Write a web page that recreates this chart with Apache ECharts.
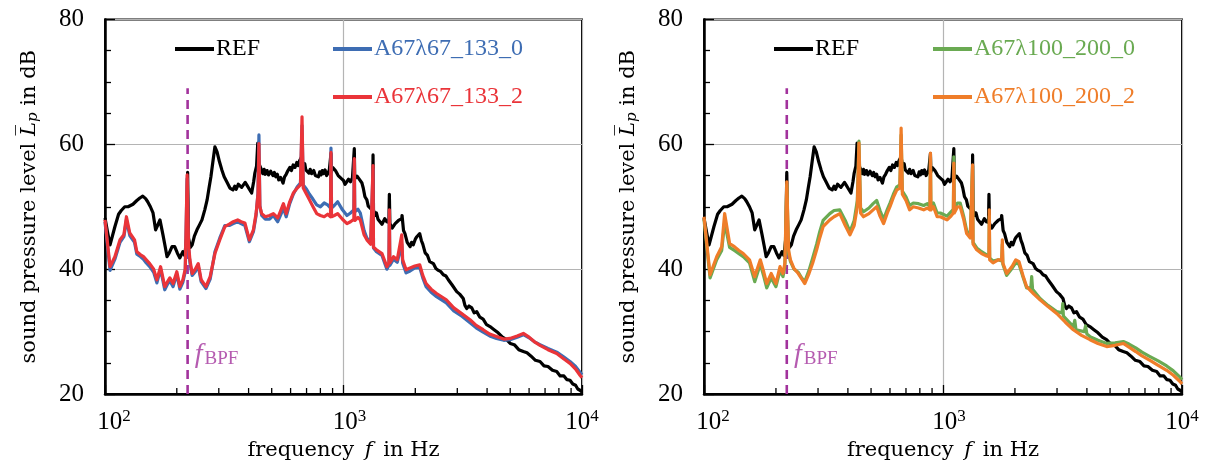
<!DOCTYPE html>
<html>
<head>
<meta charset="utf-8">
<script src="https://cdn.jsdelivr.net/npm/echarts@6/dist/echarts.min.js"></script>
<style>
html,body{margin:0;padding:0;background:#fff;}
#chart{width:1206px;height:468px;}
</style>
</head>
<body>
<div id="chart"></div>
<script>
// ---------------- data ----------------
const xMin = 100, xMax = 10000;
const yMin = 20, yMax = 80, yStep = 20;
const xTickExp = {100: '2', 1000: '3', 10000: '4'};
const minorTicks = [200,300,400,500,600,700,800,900,2000,3000,4000,5000,6000,7000,8000,9000];
const bpfFreq = 222;
const bpfLineTop = 69;
const bpfLabelAt = [238, 26.3];

const leftNames = ['REF', 'A67λ67_133_0', 'A67λ67_133_2'];
const rightNames = ['REF', 'A67λ100_200_0', 'A67λ100_200_2'];

const refData = [[100,48.2],[103,45.5],[105,43.9],[110,46.8],[114,48.8],[117,49.4],[121,50.0],[125,50.0],[131,50.4],[136,51.0],[140,51.4],[144,51.7],[148,51.3],[151,50.8],[155,50.0],[159,49.0],[163,46.3],[167,47.2],[170,47.9],[175,45.5],[179,43.5],[182,42.0],[186,42.6],[191,43.6],[196,43.6],[201,42.6],[206,41.8],[212,42.8],[216,42.2],[220,45.0],[222,55.5],[224,45.0],[228,43.5],[232,43.9],[237,45.3],[243,46.3],[249,47.1],[255,47.9],[262,49.5],[268,51.1],[273,53.0],[278,54.8],[284,57.5],[289,59.6],[292,59.8],[295,58.8],[302,57.2],[309,55.9],[316,54.8],[324,54.0],[334,53.0],[344,52.7],[350,53.3],[355,52.8],[362,53.6],[368,53.8],[374,53.1],[380,53.3],[387,53.9],[393,53.5],[403,52.8],[412,52.2],[420,54.0],[425,55.4],[432,56.5],[437,60.2],[441,57.0],[450,56.2],[459,55.3],[465,56.0],[470,55.2],[478,55.8],[485,55.1],[495,55.7],[506,55.0],[513,55.5],[520,54.8],[528,55.2],[535,54.3],[545,54.7],[558,53.8],[566,54.8],[575,55.2],[585,55.8],[596,56.3],[605,55.8],[615,56.7],[626,56.3],[637,57.1],[646,56.6],[655,57.4],[668,58.0],[672,57.3],[680,56.4],[688,56.9],[695,55.9],[702,56.2],[716,55.4],[725,56.0],[735,55.3],[750,55.8],[762,55.0],[772,55.3],[785,54.8],[795,55.6],[805,55.1],[815,55.8],[825,55.3],[837,55.9],[850,55.0],[862,55.4],[872,55.9],[882,56.0],[886,58.5],[890,55.6],[900,56.3],[912,56.6],[925,55.8],[937,56.0],[950,55.0],[965,55.2],[980,54.5],[1000,54.2],[1015,53.6],[1033,53.8],[1050,54.4],[1070,54.0],[1090,54.6],[1105,54.5],[1110,59.3],[1115,54.5],[1128,54.2],[1140,54.9],[1160,54.5],[1176,54.8],[1195,53.8],[1210,53.0],[1230,51.6],[1253,51.1],[1270,50.1],[1290,50.3],[1310,49.6],[1325,50.0],[1330,58.3],[1336,49.5],[1355,48.6],[1374,49.0],[1395,48.0],[1420,47.9],[1450,47.2],[1489,48.1],[1520,47.6],[1550,47.5],[1557,52.0],[1565,47.3],[1600,46.6],[1647,47.3],[1700,47.8],[1755,48.1],[1760,48.6],[1785,46.2],[1810,45.7],[1850,44.3],[1902,43.6],[1930,44.3],[1960,43.9],[2000,44.8],[2030,45.2],[2060,44.9],[2087,45.7],[2120,44.6],[2150,44.0],[2200,42.6],[2250,42.2],[2300,41.2],[2381,40.9],[2440,40.1],[2500,39.8],[2560,39.6],[2621,39.1],[2690,38.9],[2751,38.3],[2850,37.5],[2983,36.4],[3070,36.0],[3177,35.3],[3230,34.2],[3286,33.7],[3360,34.1],[3450,33.8],[3530,33.0],[3618,33.2],[3730,32.3],[3850,32.0],[3980,31.1],[4115,30.8],[4280,30.3],[4450,29.8],[4640,29.1],[4833,28.7],[5000,28.1],[5200,27.9],[5430,27.1],[5676,26.8],[5880,26.6],[6100,26.1],[6380,25.4],[6667,25.2],[6930,24.5],[7200,24.4],[7520,23.8],[7834,23.6],[8100,22.9],[8400,22.9],[8650,22.3],[8906,22.2],[9150,21.6],[9400,21.4],[9600,20.8],[9808,20.6],[10000,20.3]];

const a0Data = [[100,47.6],[105,39.8],[110,41.6],[115.6,44.3],[120,45.2],[123,47.9],[127,45.4],[133,44.3],[136,42.4],[141,42.0],[145,41.6],[149,41.0],[154,40.4],[160,39.5],[165,37.8],[171,40.0],[178,36.7],[183,37.6],[187,38.2],[193,37.2],[200,39.2],[206,36.8],[212,37.9],[217,39.6],[221,54.5],[224,43.5],[227,41.0],[232,39.0],[239,39.6],[246,40.5],[253,38.0],[265,36.9],[276,38.4],[289,42.8],[303,45.0],[318,47.0],[332,47.0],[345,47.3],[360,47.6],[372,47.3],[386,47.0],[403,44.4],[419,46.0],[430,48.6],[438,52.2],[442,61.5],[446,50.2],[454,48.6],[470,48.0],[490,48.0],[508,48.6],[530,47.6],[548,48.9],[560,49.8],[575,48.4],[595,50.5],[616,52.0],[640,53.2],[660,53.8],[670,63.0],[678,53.5],[700,52.8],[720,52.0],[745,51.2],[772,50.3],[800,50.0],[830,50.6],[858,50.3],[882,49.8],[886,59.4],[891,49.8],[915,50.2],[945,50.8],[990,49.5],[1034,48.6],[1070,49.0],[1105,49.5],[1110,57.5],[1115,49.2],[1150,49.6],[1176,49.0],[1220,46.2],[1253,45.0],[1300,44.2],[1325,43.9],[1330,56.0],[1336,43.4],[1375,42.8],[1450,42.2],[1520,40.0],[1550,40.6],[1557,49.3],[1564,40.6],[1620,41.6],[1680,41.1],[1712,41.1],[1755,44.0],[1770,41.0],[1830,39.4],[1902,39.7],[1990,40.2],[2087,40.3],[2150,38.6],[2220,37.2],[2330,36.3],[2456,35.6],[2698,34.6],[2900,33.3],[3100,32.6],[3393,31.4],[3600,30.6],[3851,29.9],[4100,29.3],[4380,28.9],[4700,28.6],[4990,28.7],[5350,29.1],[5676,29.5],[6000,29.0],[6300,28.4],[6667,27.9],[7200,27.3],[7834,26.7],[8400,25.9],[8906,25.2],[9400,24.4],[9808,23.5],[10000,23.1]];

const a2Data = [[100,47.9],[105,40.4],[110,42.0],[115.6,44.7],[120,45.5],[123,48.4],[127,45.8],[133,44.7],[136,42.8],[141,42.3],[145,42.0],[149,41.5],[154,40.9],[160,40.0],[165,38.3],[171,40.4],[178,37.2],[183,38.0],[187,38.6],[193,37.7],[200,39.6],[206,37.2],[212,38.3],[217,40.0],[221,55.1],[224,44.0],[227,41.5],[232,39.3],[239,40.0],[246,40.9],[253,38.3],[265,37.2],[276,38.8],[289,42.5],[303,44.7],[318,46.8],[332,47.2],[345,47.6],[360,47.9],[372,47.6],[386,47.4],[403,44.7],[419,46.3],[430,48.9],[438,52.0],[442,60.1],[446,50.0],[454,48.9],[470,48.4],[490,48.6],[508,48.9],[530,48.2],[548,49.6],[560,50.5],[575,48.9],[595,50.8],[616,52.2],[640,53.0],[660,53.5],[670,64.4],[678,53.0],[700,52.0],[720,51.1],[745,50.0],[772,48.9],[800,48.6],[830,48.4],[858,48.8],[882,48.4],[886,58.7],[891,48.4],[915,48.6],[945,48.9],[990,48.0],[1034,47.3],[1070,47.6],[1105,48.0],[1110,57.7],[1115,47.8],[1150,48.3],[1176,47.9],[1220,45.5],[1253,44.7],[1300,44.0],[1325,43.8],[1330,56.6],[1336,43.5],[1375,43.1],[1450,42.5],[1520,40.4],[1550,41.0],[1557,49.5],[1564,41.0],[1620,42.0],[1680,41.5],[1712,41.5],[1755,45.5],[1770,41.5],[1830,39.9],[1902,40.2],[1990,40.5],[2087,40.7],[2150,39.0],[2220,37.7],[2330,36.8],[2456,36.1],[2698,35.1],[2900,33.8],[3100,33.0],[3393,31.9],[3600,31.0],[3851,30.3],[4100,29.6],[4380,29.2],[4700,28.8],[4990,28.9],[5350,29.3],[5676,29.7],[6000,29.1],[6300,28.4],[6667,27.8],[7200,27.1],[7834,26.5],[8400,25.6],[8906,24.9],[9400,24.0],[9808,23.0],[10000,22.6]];

const b0Data = [[100,48.0],[106,38.6],[113,41.5],[118.6,43.0],[122,47.5],[128,43.5],[134,43.0],[140,42.5],[146,42.0],[155,41.0],[163,38.0],[172,40.8],[178,38.8],[183,37.0],[191,38.6],[200,37.2],[208,39.8],[214,38.8],[218,40.5],[222,53.5],[226,42.5],[230,41.2],[238,40.0],[248,39.5],[256,38.6],[264,38.0],[275,39.8],[285,41.8],[296,44.0],[305,46.0],[315,47.8],[336,48.9],[350,49.4],[370,49.5],[390,47.8],[408,46.0],[425,47.8],[438,51.0],[445,60.5],[452,49.8],[465,49.2],[490,49.8],[510,50.5],[528,51.0],[545,49.4],[564,48.0],[585,49.6],[600,50.6],[620,52.0],[641,53.2],[660,53.5],[668,61.5],[676,52.5],[700,51.6],[725,50.2],[751,50.6],[790,50.5],[830,50.2],[860,50.5],[882,50.0],[886,58.0],[890,50.0],[912,50.6],[945,49.0],[975,49.0],[1000,48.8],[1040,48.5],[1080,49.2],[1105,49.6],[1110,58.0],[1115,49.6],[1150,50.6],[1180,50.6],[1220,48.5],[1256,46.2],[1300,45.2],[1325,45.2],[1330,56.5],[1336,44.3],[1384,43.4],[1450,42.8],[1523,42.3],[1557,42.2],[1562,48.5],[1568,41.8],[1620,41.3],[1700,41.5],[1760,41.3],[1771,44.0],[1780,40.8],[1847,39.0],[1950,40.2],[2016,41.0],[2080,40.8],[2160,38.8],[2239,37.0],[2330,37.0],[2350,38.8],[2370,36.8],[2547,35.3],[2750,34.2],[2990,33.2],[3150,33.0],[3170,34.5],[3190,32.5],[3509,30.8],[3560,31.8],[3600,30.3],[3900,30.0],[3950,30.9],[4000,29.6],[4121,29.2],[4450,28.6],[4842,28.1],[5250,28.2],[5681,28.4],[6000,28.0],[6400,27.4],[6800,26.7],[7345,26.0],[7950,25.3],[8627,24.5],[9200,23.7],[9808,22.7],[10000,22.3]];

const b2Data = [[100,48.4],[106,39.1],[113,42.0],[118.6,43.6],[122,48.9],[128,44.1],[134,43.6],[140,43.0],[146,42.5],[155,41.5],[163,38.8],[172,41.5],[178,39.5],[183,37.7],[191,39.3],[200,37.7],[208,40.4],[214,39.3],[218,41.0],[222,54.0],[226,43.0],[230,41.5],[238,40.1],[248,39.3],[256,38.5],[264,37.7],[275,39.3],[285,41.0],[296,43.1],[305,45.0],[315,46.8],[336,47.9],[350,48.4],[370,48.9],[390,47.0],[408,45.5],[425,47.0],[438,50.0],[445,60.2],[452,49.0],[465,48.4],[490,48.9],[510,49.5],[528,50.0],[545,48.5],[564,47.3],[585,49.0],[600,50.0],[620,51.5],[641,52.7],[660,53.0],[668,62.6],[676,52.0],[700,51.0],[725,49.5],[751,50.0],[790,49.8],[830,49.5],[860,49.8],[882,49.5],[886,58.6],[890,49.5],[912,50.0],[945,48.4],[975,48.4],[1000,48.2],[1040,47.9],[1080,48.5],[1105,49.0],[1110,57.0],[1115,49.0],[1150,50.0],[1180,50.0],[1220,48.0],[1256,45.7],[1300,45.0],[1325,45.0],[1330,56.7],[1336,44.0],[1384,43.1],[1450,42.5],[1523,42.1],[1557,42.0],[1562,49.5],[1568,41.5],[1620,41.0],[1700,41.5],[1760,41.5],[1771,44.7],[1780,41.0],[1847,39.3],[1950,40.5],[2016,41.5],[2080,41.2],[2160,39.0],[2239,37.2],[2400,36.0],[2547,35.1],[2750,34.0],[2990,32.9],[3250,31.5],[3509,30.3],[3800,29.4],[4121,28.7],[4450,28.1],[4842,27.6],[5250,27.8],[5681,28.1],[6000,27.5],[6400,26.8],[6800,26.1],[7345,25.4],[7950,24.6],[8627,23.8],[9200,23.0],[9808,22.0],[10000,21.6]];

// ---------------- styling ----------------
const FONT = '"Liberation Serif", "DejaVu Serif", serif';
const NAMEFONT = '"DejaVu Serif", serif';
const C = {
  ref: '#000000', blue: '#3e6db3', red: '#ea3439',
  green: '#6aaa52', orange: '#ef7d29', purple: '#a2329c', grid: '#b4b4b4'
};
const xLabelShift = {100: 18, 1000: 12, 10000: 0};

const grids = [
  {left: 105, top: 19.5, width: 477, height: 374.5},
  {left: 704, top: 19.5, width: 478, height: 374.5}
];

function xAxisCfg(i) {
  return {
    type: 'log', logBase: 10, gridIndex: i, min: xMin, max: xMax,
    name: 'frequency {i|f} in Hz', nameLocation: 'middle', nameGap: 42,
    nameTextStyle: {fontFamily: NAMEFONT, fontSize: 21, color: '#000',
      rich: {i: {fontFamily: NAMEFONT, fontSize: 21, fontStyle: 'italic', color: '#000', padding: [0, 4, 0, 4]}}},
    axisLine: {show: true, lineStyle: {color: '#000', width: 2.5}},
    axisTick: {show: true, inside: true, length: 9, lineStyle: {color: '#000', width: 1.3}},
    minorTick: {show: false},
    splitLine: {show: true, lineStyle: {color: C.grid, width: 1.2}},
    axisLabel: {
      margin: 14, color: '#000', fontFamily: FONT, fontSize: 25,
      formatter: v => {
        const k = Math.round(v);
        return '{b' + xLabelShift[k] + '|10}{s|' + xTickExp[k] + '}';
      },
      rich: {
        b18: {fontFamily: FONT, fontSize: 25, color: '#000', padding: [0, 0, 0, 18]},
        b12: {fontFamily: FONT, fontSize: 25, color: '#000', padding: [0, 0, 0, 12]},
        b0: {fontFamily: FONT, fontSize: 25, color: '#000'},
        s: {fontFamily: FONT, fontSize: 17, color: '#000', padding: [0, 0, 12, 0]}
      }
    }
  };
}
function yAxisCfg(i) {
  return {
    type: 'value', gridIndex: i, min: yMin, max: yMax, interval: yStep,
    name: 'sound pressure level {L|L̅}{p|p} in dB', nameLocation: 'middle', nameGap: 64, nameRotate: 90,
    nameTextStyle: {fontFamily: NAMEFONT, fontSize: 21, color: '#000',
      rich: {
        L: {fontFamily: NAMEFONT, fontSize: 21, fontStyle: 'italic', color: '#000'},
        p: {fontFamily: NAMEFONT, fontSize: 15, fontStyle: 'italic', color: '#000', padding: [8, 0, 0, 0]}
      }},
    axisLine: {show: true, lineStyle: {color: '#000', width: 2.5}},
    axisTick: {show: true, inside: true, length: 10, lineStyle: {color: '#000', width: 1.3}},
    minorTick: {show: true, splitNumber: 4, length: 6, lineStyle: {color: '#000', width: 1.3}},
    splitLine: {show: true, lineStyle: {color: C.grid, width: 1.2}},
    axisLabel: {margin: 21, color: '#000', fontFamily: FONT, fontSize: 25}
  };
}

function lineSeries(name, data, color, i, z) {
  return {
    type: 'line', name: name, data: data, xAxisIndex: i, yAxisIndex: i,
    showSymbol: false, symbol: 'none', color: color, z: z,
    lineStyle: {color: color, width: 3.2, join: 'round'}, animation: false
  };
}
function bpfSeries(i) {
  return {
    type: 'line', name: 'bpf' + i, xAxisIndex: i, yAxisIndex: i, symbol: 'none',
    data: [[bpfFreq, yMin], [bpfFreq, bpfLineTop]], z: 1, animation: false,
    lineStyle: {color: C.purple, width: 2.6, type: [9, 6]}
  };
}
function bpfLabel(i) {
  return {
    type: 'scatter', name: 'bpfl' + i, xAxisIndex: i, yAxisIndex: i, symbolSize: 0,
    data: [bpfLabelAt], silent: true, animation: false,
    label: {show: true, position: 'right', distance: 0, formatter: '{f|f}{s|BPF}',
      rich: {
        f: {fontFamily: FONT, fontSize: 28, fontStyle: 'italic', color: C.purple},
        s: {fontFamily: FONT, fontSize: 19, color: C.purple, padding: [9, 0, 0, 2]}
      }}
  };
}
function minorTickSeries(i) {
  return {
    type: 'custom', name: 'mt' + i, xAxisIndex: i, yAxisIndex: i, silent: true, clip: false, z: 10,
    data: minorTicks.map(v => [v, yMin]), animation: false,
    renderItem: (params, api) => {
      const p = api.coord([api.value(0), api.value(1)]);
      return {type: 'line', shape: {x1: p[0], y1: p[1], x2: p[0], y2: p[1] - 6},
        style: {stroke: '#000', lineWidth: 1.3}};
    }
  };
}
function legendItem(name, color, left, top) {
  return {
    data: [{name: name, textStyle: {color: color}}], left: left, top: top,
    icon: 'rect', itemWidth: 39, itemHeight: 4, selectedMode: false, padding: 0,
    textStyle: {fontFamily: FONT, fontSize: 24, color: color, padding: [0, 0, 0, -3]}
  };
}

const option = {
  backgroundColor: '#fff',
  animation: false,
  grid: grids.map(g => Object.assign({show: true, borderColor: '#000', borderWidth: 2, containLabel: false}, g)),
  xAxis: [xAxisCfg(0), xAxisCfg(1)],
  yAxis: [yAxisCfg(0), yAxisCfg(1)],
  legend: [
    legendItem(leftNames[0], C.ref, 175, 37),
    legendItem(leftNames[1], C.blue, 333, 37),
    legendItem(leftNames[2], C.red, 333, 85),
    legendItem(rightNames[0], C.ref, 774, 37),
    legendItem(rightNames[1], C.green, 933, 37),
    legendItem(rightNames[2], C.orange, 933, 85)
  ],
  series: [
    bpfSeries(0), bpfLabel(0),
    lineSeries(leftNames[0], refData, C.ref, 0, 2),
    lineSeries(leftNames[1], a0Data, C.blue, 0, 3),
    lineSeries(leftNames[2], a2Data, C.red, 0, 4),
    minorTickSeries(0),
    bpfSeries(1), bpfLabel(1),
    lineSeries(rightNames[0], refData, C.ref, 1, 2),
    lineSeries(rightNames[1], b0Data, C.green, 1, 3),
    lineSeries(rightNames[2], b2Data, C.orange, 1, 4),
    minorTickSeries(1)
  ]
};

const chart = echarts.init(document.getElementById('chart'), null, {renderer: 'canvas'});
chart.setOption(option);
</script>
</body>
</html>
